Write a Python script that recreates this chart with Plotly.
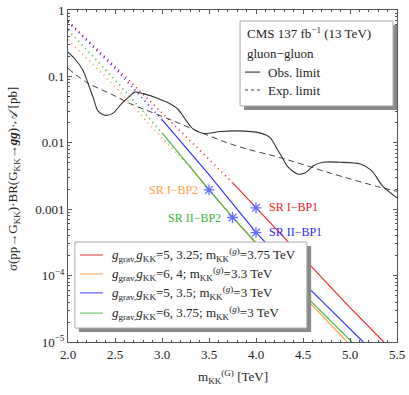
import math
import plotly.graph_objects as go

# --- data ------------------------------------------------------------------
# CMS observed / expected limits (pb) vs m_KK^(G) (TeV)
obs_mass = [2.0, 2.07, 2.16, 2.21, 2.27, 2.32, 2.39, 2.48, 2.57, 2.66, 2.71, 2.80,
            2.95, 3.05, 3.17, 3.25, 3.33, 3.44, 3.62, 3.80, 4.04, 4.15, 4.22,
            4.28, 4.33, 4.44, 4.52, 4.61, 4.71, 4.89, 5.11, 5.23, 5.35, 5.5]
obs_xsec = [0.231, 0.186, 0.123, 0.081, 0.047, 0.030, 0.026, 0.028, 0.039, 0.051,
            0.058, 0.055, 0.047, 0.041, 0.032, 0.0224, 0.0162, 0.0138, 0.0148,
            0.0151, 0.0141, 0.0120, 0.0083, 0.0060, 0.0045, 0.0034, 0.0035,
            0.0045, 0.0051, 0.0051, 0.0048, 0.0038, 0.0022, 0.00148]

exp_mass = [2.0, 2.2, 2.45, 2.66, 2.98, 3.17, 3.44, 3.80, 4.29, 4.79, 5.32, 5.5]
exp_xsec = [0.132, 0.081, 0.055, 0.039, 0.0257, 0.020, 0.0138, 0.0089, 0.0058,
            0.0035, 0.00214, 0.00186]

# benchmark predictions
red_mass = [2.0, 2.5, 3.0, 3.5, 3.75, 4.0, 4.5, 5.0, 5.36]
red_xsec = [0.676, 0.141, 0.0282, 0.00562, 0.00251, 0.00105, 1.86e-4, 3.3e-5, 1e-5]

orange_mass = [2.0, 2.5, 3.0, 3.3, 3.5, 4.0, 4.5, 4.97]
orange_xsec = [0.355, 0.0708, 0.0117, 0.00437, 0.00195, 3.0e-4, 5.0e-5, 1e-5]

blue_mass = [2.0, 2.5, 3.0, 3.5, 4.0, 4.5, 5.14]
blue_xsec = [0.66, 0.132, 0.0224, 0.00331, 4.47e-4, 7.9e-5, 1e-5]

green_mass = [2.0, 2.5, 3.0, 3.5, 3.75, 4.0, 4.5, 5.02]
green_xsec = [0.50, 0.089, 0.0141, 0.00195, 7.6e-4, 3.16e-4, 5.4e-5, 1e-5]

# mass of the KK gluon: prediction is solid above it, dotted below
solid_from = [3.75, 3.3, 3.0, 3.0]

# signal-region benchmark points
bp_names = ["SR I\u2212BP1", "SR I\u2212BP2", "SR II\u2212BP1", "SR II\u2212BP2"]
bp_mass = [4.0, 3.5, 4.0, 3.75]
bp_xsec = [0.00105, 0.00195, 0.000445, 0.00075]

series_labels = [
    "<i>g</i><sub>grav,</sub><i>g</i><sub>KK</sub>=5, 3.25; m<sub>KK</sub><sup>(<i>g</i>)</sup>=3.75 TeV",
    "<i>g</i><sub>grav,</sub><i>g</i><sub>KK</sub>=6, 4; m<sub>KK</sub><sup>(<i>g</i>)</sup>=3.3 TeV",
    "<i>g</i><sub>grav,</sub><i>g</i><sub>KK</sub>=5, 3.5; m<sub>KK</sub><sup>(<i>g</i>)</sup>=3 TeV",
    "<i>g</i><sub>grav,</sub><i>g</i><sub>KK</sub>=6, 3.75; m<sub>KK</sub><sup>(<i>g</i>)</sup>=3 TeV",
]

y_tickvals = [1, 0.1, 0.01, 0.001, 1e-4, 1e-5]
y_ticktext = ["1", "0.1", "0.01", "0.001", "10<sup>\u22124</sup>", "10<sup>\u22125</sup>"]

colors = ["#ee2222", "#ffa040", "#2a2aff", "#3cb43c"]
legend_colors = ["#f06060", "#ffb870", "#6a6aff", "#7cd07c"]
FONT = "Liberation Serif, Times New Roman, serif"
TXT = "#222222"

fig = go.Figure()

curves = [(red_mass, red_xsec), (orange_mass, orange_xsec),
          (blue_mass, blue_xsec), (green_mass, green_xsec)]
for (m, s), start, c in zip(curves, solid_from, colors):
    dm = [x for x in m if x <= start]
    ds = [y for x, y in zip(m, s) if x <= start]
    if start not in dm:
        # close the dotted part at the KK-gluon mass (log interpolation)
        i = next(i for i, x in enumerate(m) if x > start)
        f = (start - m[i - 1]) / (m[i] - m[i - 1])
        dm.append(start)
        ds.append(s[i - 1] * (s[i] / s[i - 1]) ** f)
    fig.add_trace(go.Scatter(x=dm, y=ds, mode="lines", showlegend=False,
                             line=dict(color=c, width=1.8, dash="1px,4px")))
    sm = [dm[-1]] + [x for x in m if x > start]
    ss = [ds[-1]] + [y for x, y in zip(m, s) if x > start]
    fig.add_trace(go.Scatter(x=sm, y=ss, mode="lines", showlegend=False,
                             line=dict(color=c, width=1.1)))

fig.add_trace(go.Scatter(x=exp_mass, y=exp_xsec, mode="lines", showlegend=False,
                         line=dict(color="#444444", width=1, dash="6px,4px", shape="spline")))
fig.add_trace(go.Scatter(x=obs_mass, y=obs_xsec, mode="lines", showlegend=False,
                         line=dict(color="#333333", width=1.1, shape="spline", smoothing=0.8)))

fig.add_trace(go.Scatter(x=bp_mass, y=bp_xsec, mode="markers", showlegend=False,
                         marker=dict(symbol="asterisk-open", size=9,
                                     line=dict(color=colors, width=1.3))))

# labels next to benchmark points
label_pos = [(4.12, 0.00108, "left"), (3.4, 0.00195, "right"),
             (4.12, 0.00045, "left"), (3.65, 0.00073, "right")]
for name, (lx, ly, anc), c in zip(bp_names, label_pos, colors):
    fig.add_annotation(x=lx, y=math.log10(ly), text=name, showarrow=False,
                       xanchor=anc, font=dict(color=c, size=12, family=FONT))

# legend boxes (drawn by hand, with the drop shadow of the original)
shapes = [
    dict(type="rect", xref="paper", yref="paper", x0=0.535, x1=1.0, y0=0.699, y1=0.955,
         fillcolor="#8a8a8a", line=dict(width=0)),
    dict(type="rect", xref="paper", yref="paper", x0=0.523, x1=0.988, y0=0.711, y1=0.967,
         fillcolor="white", line=dict(color="#aaaaaa", width=1)),
    dict(type="line", xref="paper", yref="paper", x0=0.538, x1=0.584, y0=0.813, y1=0.813,
         line=dict(color="#333333", width=1.1)),
    dict(type="line", xref="paper", yref="paper", x0=0.538, x1=0.584, y0=0.759, y1=0.759,
         line=dict(color="#444444", width=1, dash="3px,3px")),
    dict(type="rect", xref="paper", yref="paper", x0=0.033, x1=0.739, y0=0.030, y1=0.289,
         fillcolor="#8a8a8a", line=dict(width=0)),
    dict(type="rect", xref="paper", yref="paper", x0=0.021, x1=0.726, y0=0.042, y1=0.301,
         fillcolor="white", line=dict(color="#aaaaaa", width=1)),
]
entry_y = [0.262, 0.205, 0.148, 0.087]
for ey, lc in zip(entry_y, legend_colors):
    shapes.append(dict(type="line", xref="paper", yref="paper", x0=0.036, x1=0.106,
                       y0=ey, y1=ey, line=dict(color=lc, width=1.3)))
for s in shapes:
    s["layer"] = "above"
fig.update_layout(shapes=shapes)

top_texts = [("CMS 137 fb<sup>\u22121</sup> (13 TeV)", 0.538, 0.931),
             ("gluon\u2212gluon", 0.538, 0.870),
             ("Obs. limit", 0.602, 0.813),
             ("Exp. limit", 0.602, 0.759)]
for t, tx, ty in top_texts:
    fig.add_annotation(x=tx, y=ty, xref="paper", yref="paper", text=t, showarrow=False,
                       xanchor="left", yanchor="middle", font=dict(size=13, family=FONT, color=TXT))
for t, ey in zip(series_labels, entry_y):
    fig.add_annotation(x=0.128, y=ey, xref="paper", yref="paper", text=t, showarrow=False,
                       xanchor="left", yanchor="middle", font=dict(size=13, family=FONT, color=TXT))

# axis titles
fig.add_annotation(x=-0.165, y=0.49, xref="paper", yref="paper", textangle=-90,
                   text="\u03c3(pp\u2192G<sub>KK</sub>)\u00b7BR(G<sub>KK</sub>\u2192<b><i>gg</i></b>)\u00b7<i>\U0001d49c</i> [pb]",
                   showarrow=False, xanchor="center", yanchor="middle",
                   font=dict(size=13, family=FONT, color=TXT))
fig.add_annotation(x=0.5, y=-0.105, xref="paper", yref="paper",
                   text="m<sub>KK</sub><sup>(G)</sup> [TeV]", showarrow=False,
                   xanchor="center", yanchor="middle", font=dict(size=13, family=FONT, color=TXT))

axis_common = dict(showline=True, mirror="allticks", linecolor="#555555", linewidth=1,
                   ticks="inside", ticklen=4, tickcolor="#555555", showgrid=False,
                   zeroline=False, automargin=False,
                   tickfont=dict(size=13, family=FONT, color=TXT))

fig.update_xaxes(range=[2.0, 5.5], dtick=0.5, tickformat=".1f",
                 minor=dict(ticks="inside", dtick=0.1, ticklen=2, tickcolor="#555555"),
                 **axis_common)
fig.update_yaxes(type="log", range=[-5, 0], tickvals=y_tickvals, ticktext=y_ticktext,
                 minor=dict(ticks="inside", ticklen=2, tickcolor="#555555",
                            tickvals=[k * 10.0 ** e for e in range(-5, 0) for k in range(2, 10)]),
                 **axis_common)

fig.update_layout(width=409, height=395, margin=dict(l=68, r=12, t=10, b=53),
                  plot_bgcolor="white", paper_bgcolor="white",
                  font=dict(family=FONT, color=TXT))

# drop the default page margin so the figure sits at the window's corner
fig.write_html("out.html", config={"displayModeBar": False},
               post_script="document.body.style.margin='0';")
